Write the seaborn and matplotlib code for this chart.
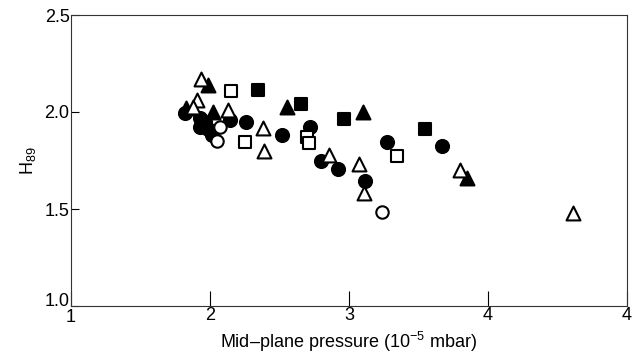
import matplotlib
matplotlib.use('Agg')
import matplotlib.pyplot as plt
import matplotlib.transforms as mtransforms
import seaborn as sns
import pandas as pd

# Values
fcirc_x = [1.82, 1.928, 1.964, 1.928, 1.986, 2.014, 2.144, 2.26, 2.52, 2.72, 2.80, 2.92, 3.115, 3.27, 3.67]
fcirc_y = [1.995, 1.969, 1.948, 1.923, 1.912, 1.881, 1.959, 1.948, 1.88, 1.923, 1.75, 1.706, 1.644, 1.845, 1.825]

ftri_x = [1.986, 1.827, 2.02, 2.554, 3.10, 3.85]
ftri_y = [2.139, 2.02, 2.0, 2.026, 2.0, 1.66]

fsq_x = [2.345, 2.655, 2.964, 3.547]
fsq_y = [2.113, 2.041, 1.964, 1.912]

osq_x = [2.151, 2.698, 2.712, 2.252, 3.345]
osq_y = [2.108, 1.871, 1.84, 1.845, 1.773]

ocirc_x = [2.072, 2.05, 3.237]
ocirc_y = [1.923, 1.85, 1.485]

otri_x = [1.935, 1.906, 1.878, 2.13, 2.381, 2.388, 2.856, 3.072, 3.108, 3.799, 4.61]
otri_y = [2.17, 2.062, 2.026, 2.01, 1.918, 1.80, 1.778, 1.732, 1.582, 1.70, 1.479]

xticks = [1, 2, 3, 4, 5]
xticklabels = ['1', '2', '3', '4', '4']
yticks = [1.0, 1.5, 2.0, 2.5]
yticklabels = ['1.0', '1.5', '2.0', '2.5']

sns.set_style('ticks')
plt.rcParams['font.family'] = ['Liberation Sans', 'DejaVu Sans']
plt.rcParams['mathtext.fontset'] = 'custom'
plt.rcParams['mathtext.rm'] = 'Liberation Sans'
plt.rcParams['text.color'] = 'black'
plt.rcParams['axes.labelcolor'] = 'black'
plt.rcParams['xtick.color'] = 'black'
plt.rcParams['ytick.color'] = 'black'

fig = plt.figure(figsize=(6.33, 3.62), dpi=100)
ax = fig.add_axes([71/633, 56/362, 556/633, 291/362])

groups = [
    (fcirc_x, fcirc_y, 'o', 'black', 88),
    (ftri_x, ftri_y, '^', 'black', 100),
    (fsq_x, fsq_y, 's', 'black', 72),
    (osq_x, osq_y, 's', 'white', 72),
    (ocirc_x, ocirc_y, 'o', 'white', 80),
    (otri_x, otri_y, '^', 'white', 100),
]
for gx, gy, mk, fc, sz in groups:
    df = pd.DataFrame({'x': gx, 'y': gy})
    sns.scatterplot(data=df, x='x', y='y', marker=mk, s=sz, facecolor=fc,
                    edgecolor='black', linewidth=1.5, ax=ax, zorder=3)

ax.set_xlim(1, 5)
ax.set_ylim(1.0, 2.5)
ax.set_xticks(xticks)
ax.set_xticklabels(xticklabels)
ax.set_yticks(yticks)
ax.set_yticklabels(yticklabels)
ax.tick_params(axis='x', direction='in', length=11, width=0.8, labelsize=13, pad=1, top=False)
ax.tick_params(axis='y', direction='in', length=6, width=0.8, labelsize=13, pad=1, right=False)
for sp in ax.spines.values():
    sp.set_visible(True)
    sp.set_linewidth(0.8)
    sp.set_color('#333333')

# lift the bottom y label a touch so it clears the "1" below it
lbl = ax.get_yticklabels()[0]
lbl.set_transform(lbl.get_transform() + mtransforms.ScaledTranslation(0, 5/72, fig.dpi_scale_trans))
lbl_x = ax.get_xticklabels()[0]
lbl_x.set_transform(lbl_x.get_transform() + mtransforms.ScaledTranslation(0, -1/72, fig.dpi_scale_trans))

ax.set_xlabel('Mid\u2013plane pressure (10$^{\\mathregular{-5}}$ mbar)', fontsize=13, labelpad=3)
ax.set_ylabel('H$_{\\mathregular{89}}$', fontsize=13, labelpad=5)

fig.savefig('out.png', dpi=100)
